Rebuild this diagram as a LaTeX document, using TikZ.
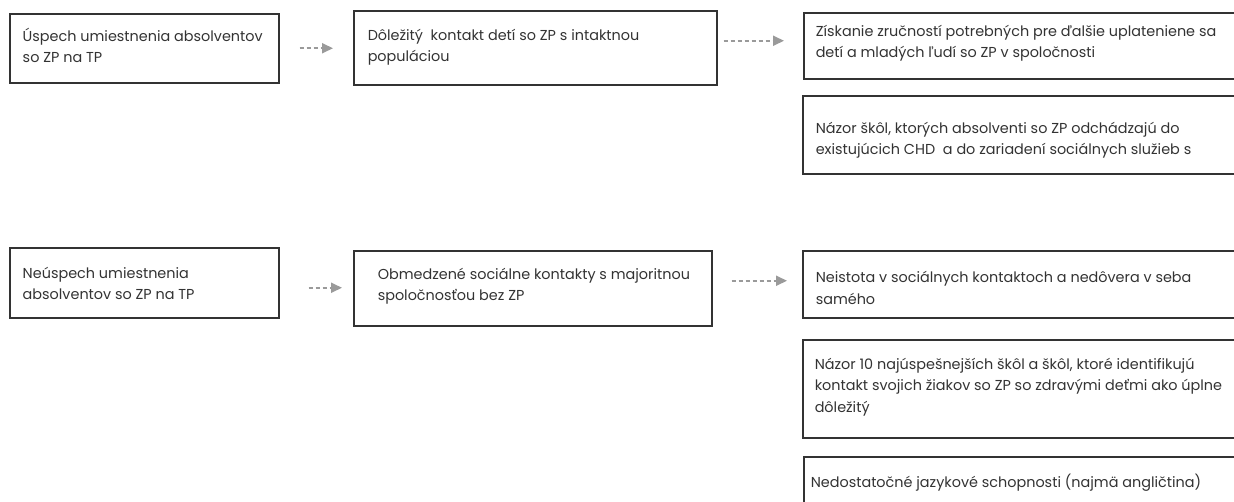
\documentclass[tikz,border=0pt]{standalone}
\usepackage{fontspec}
\setmainfont{Poppins}
\usetikzlibrary{calc,arrows.meta}
\definecolor{boxc}{HTML}{333333}
\definecolor{txtc}{HTML}{333333}
\definecolor{arrc}{HTML}{9A9A9A}
\newcommand\fs{\fontsize{14.4pt}{21.5pt}\selectfont}
\newcommand\bt[5]{\parbox[t][#2pt][t]{#1pt}{\fs\raggedright\leftskip=#3pt\relax\vspace*{\dimexpr#4pt-\ht\strutbox\relax}\strut #5}}
\tikzset{
  box/.style={draw=boxc, line width=1.5pt, inner sep=0pt, anchor=north west, text=txtc},
  arr/.style={draw=arrc, line width=1.8pt, dash pattern=on 4pt off 3pt, -{Triangle[length=11pt,width=10pt,fill=arrc]}},
}
\begin{document}
\begin{tikzpicture}[x=1pt,y=-1pt]
\clip (0,0) rectangle (1234,501);
\fill[white] (0,0) rectangle (1234,501);
% row 1
\node[box] (a1) at (9,13) {\bt{269}{69}{13}{27.5}{Úspech umiestnenia absolventov\\so ZP na TP}};
\node[box] (b1) at (353,10) {\bt{363}{74}{14}{29.5}{Dôležitý\ \ kontakt detí so ZP s intaktnou\\populáciou}};
\node[box] (c1) at (803,12) {\bt{450}{66}{12}{23.5}{Získanie zručností potrebných pre ďalšie uplateniene sa\\detí a mladých ľudí so ZP v spoločnosti}};
\node[box] (c2) at (802,95) {\bt{450}{78}{13}{37.5}{Názor škôl, ktorých absolventi so ZP odchádzajú do\\existujúcich CHD\ \ a do zariadení sociálnych služieb s}};
% row 2
\node[box] (a2) at (9,247) {\bt{269}{70}{13}{30.5}{Neúspech umiestnenia\\absolventov so ZP na TP}};
\node[box] (b2) at (353,250) {\bt{358}{75}{24}{28.5}{Obmedzené sociálne kontakty s majoritnou\\spoločnosťou bez ZP}};
\node[box] (c3) at (802,250) {\bt{450}{67}{13}{32}{Neistota v sociálnych kontaktoch a nedôvera v seba\\samého}};
\node[box] (c4) at (802,339) {\bt{450}{98}{12}{29.5}{Názor 10 najúspešnejších škôl a škôl, ktoré identifikujú\\kontakt svojich žiakov so ZP so zdravými deťmi ako úplne\\dôležitý}};
\node[box] (c5) at (803,456) {\bt{450}{60}{7}{30.5}{Nedostatočné jazykové schopnosti (najmä angličtina)}};
% arrows
\draw[arr] ($(a1.east)+(20,0)$) -- ($(b1.west|-a1.east)+(-20,0)$);
\draw[arr] ($(b1.east)+(6,-7)$) -- ($(c1.west|-b1.east)+(-19,-7)$);
\draw[arr] ($(a2.east)+(29,5)$) -- ($(b2.west|-a2.east)+(-11,5)$);
\draw[arr] ($(b2.east)+(19,-7.5)$) -- ($(c3.west|-b2.east)+(-15,-7.5)$);
\end{tikzpicture}
\end{document}
